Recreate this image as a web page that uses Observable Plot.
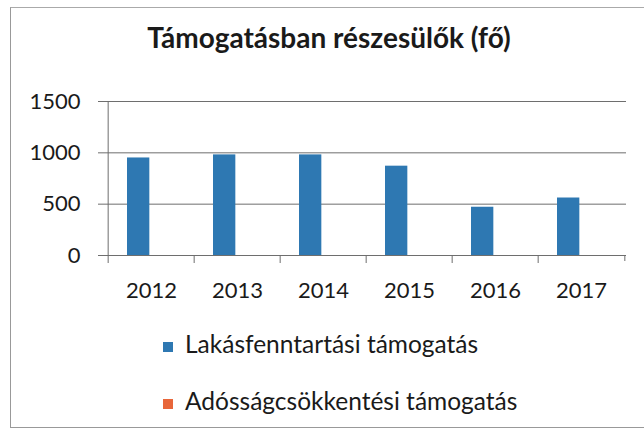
<!DOCTYPE html>
<html>
<head>
<meta charset="utf-8">
<script src="https://cdn.jsdelivr.net/npm/d3@7"></script>
<script src="https://cdn.jsdelivr.net/npm/@observablehq/plot@0.6"></script>
<style>
  html, body { margin: 0; padding: 0; background: #fff; }
  body { width: 644px; height: 430px; position: relative; overflow: hidden; font-family: Lato, "Open Sans", sans-serif; color: #1a1a1a; }
  #frame { position: absolute; left: 10px; top: 7px; width: 700px; height: 419px; border-left: 1.5px solid #999; border-top: 1px solid #aaa; border-bottom: 1.5px solid #999; }
  #title { position: absolute; left: 0; width: 658px; top: 21px; text-align: center; font-weight: bold; font-size: 28px; line-height: 1.2; white-space: nowrap; }
  #chart { position: absolute; left: 0; top: 0; }
  .leg { position: absolute; left: 163px; font-size: 24.5px; line-height: 1.2; white-space: nowrap; }
  .leg .sw { position: absolute; left: 0; width: 10px; height: 10px; }
  .leg .tx { position: absolute; left: 22px; top: 0; }
</style>
</head>
<body>
<div id="frame"></div>
<div id="chart"></div>
<div id="title"></div>
<div id="legend"></div>
<script>
const title = "Támogatásban részesülők (fő)";
const years = ["2012", "2013", "2014", "2015", "2016", "2017"];
const seriesNames = ["Lakásfenntartási támogatás", "Adósságcsökkentési támogatás"];
const lakasfenntartasi = [950, 980, 980, 870, 470, 560];
const adossagcsokkentesi = [0, 0, 0, 0, 0, 0];
const yTicks = [0, 500, 1000, 1500];
const colors = ["#2e78b2", "#e8663a"];

const W = 644, H = 310;
const mL = 106, mR = 18, mT = 101, mB = 55;
const step = (W - mL - mR) / years.length;
const tickExt = 8 * 1500 / (H - mT - mB);

const rows1 = years.map((y, i) => ({year: y, value: lakasfenntartasi[i]}));
const rows2 = years.map((y, i) => ({year: y, value: adossagcsokkentesi[i]}));

const plot = Plot.plot({
  width: W,
  height: H,
  marginLeft: mL,
  marginRight: mR,
  marginTop: mT,
  marginBottom: mB,
  style: {fontFamily: "Lato, 'Open Sans', sans-serif", color: "#1a1a1a", background: "transparent"},
  x: {type: "band", domain: years, padding: 0, label: null},
  y: {domain: [0, 1500], label: null},
  marks: [
    Plot.ruleY(yTicks, {stroke: "#6e6e6e", strokeWidth: 1, insetLeft: -8}),
    Plot.barY(rows1, {x: "year", y: "value", fill: colors[0], insetLeft: 19, insetRight: step - 42}),
    Plot.barY(rows2, {x: "year", y: "value", fill: colors[1], insetLeft: 42, insetRight: step - 65}),
    Plot.ruleX([years[0]], {x: d => d, dx: -step / 2, y1: -tickExt, y2: 1500, stroke: "#6e6e6e", strokeWidth: 1}),
    Plot.ruleX(years.slice(1), {x: d => d, dx: -step / 2, y1: -tickExt, y2: 0, stroke: "#6e6e6e", strokeWidth: 1}),
    Plot.ruleX([years[years.length - 1]], {x: d => d, dx: step / 2, y1: -tickExt * 0.75, y2: 0, stroke: "#6e6e6e", strokeWidth: 1}),
    Plot.axisY({ticks: yTicks, tickSize: 0, tickPadding: 26, fontSize: 22, label: null, tickFormat: d => String(d)}),
    Plot.axisX({tickSize: 0, tickPadding: 27, fontSize: 22, label: null})
  ]
});
document.getElementById("chart").appendChild(plot);

document.getElementById("title").textContent = title;

const legend = document.getElementById("legend");
const legendTops = [329, 386];
seriesNames.forEach((name, i) => {
  const row = document.createElement("div");
  row.className = "leg";
  row.style.top = legendTops[i] + "px";
  const sw = document.createElement("div");
  sw.className = "sw";
  sw.style.background = colors[i];
  sw.style.top = "13px";
  const tx = document.createElement("div");
  tx.className = "tx";
  tx.textContent = name;
  row.appendChild(sw);
  row.appendChild(tx);
  legend.appendChild(row);
});
</script>
</body>
</html>
